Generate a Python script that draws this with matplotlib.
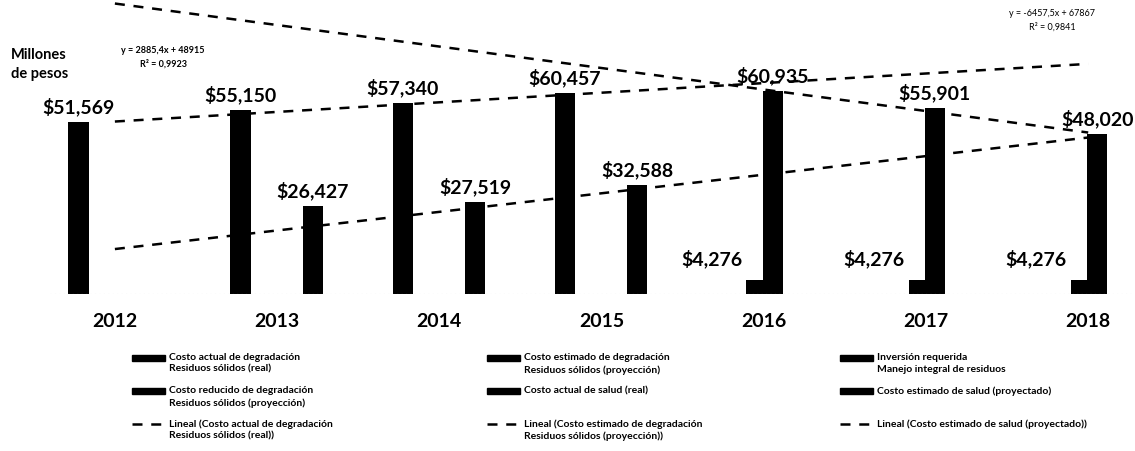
import numpy as np
import matplotlib.pyplot as plt
from matplotlib.patches import Rectangle
from matplotlib.lines import Line2D

plt.rcParams['font.family'] = ['Lato', 'DejaVu Sans']

nan = np.nan
years = ['2012', '2013', '2014', '2015', '2016', '2017', '2018']

# millones de pesos
costo_actual_degradacion = [51569, 55150, 57340, 60457, nan, nan, nan]
costo_reducido_degradacion = [nan, nan, nan, nan, nan, nan, nan]
inversion_requerida = [nan, nan, nan, nan, 4276, 4276, 4276]
costo_estimado_degradacion = [nan, nan, nan, nan, 60935, 55901, 48020]
costo_estimado_salud = [nan, nan, nan, nan, nan, nan, nan]
costo_actual_salud = [nan, 26427, 27519, 32588, nan, nan, nan]

# tendencia de salud proyectada (2012 y 2018)
tendencia_salud = [13500, 47000]

W, H = 1135, 452
fig = plt.figure(figsize=(W / 100, H / 100), dpi=100)
ax = fig.add_axes([50 / W, 1 - 295 / H, 1082 / W, 295 / H])
ax.set_xlim(-0.40, 6.27)
ax.set_ylim(0, 88600)
for s in ax.spines.values():
    s.set_visible(False)
ax.set_yticks([])
x = np.arange(len(years))
ax.set_xticks(x)
ax.set_xticklabels(years, fontsize=14, fontweight='bold')
ax.tick_params(axis='x', length=0, pad=13)
ax.axhline(0, color='#c8c8c8', lw=0.8, ls=(0, (1, 3)))

bw = 0.125
series = [
    (costo_actual_degradacion, -0.225),
    (costo_reducido_degradacion, -0.135),
    (inversion_requerida, -0.045),
    (costo_estimado_degradacion, 0.055),
    (costo_estimado_salud, 0.135),
    (costo_actual_salud, 0.22),
]
for vals, off in series:
    ax.bar(x + off, vals, width=bw, color='black')

# etiquetas de valores
for vals, off in [(costo_actual_degradacion, -0.225), (costo_estimado_degradacion, 0.055),
                  (costo_actual_salud, 0.22)]:
    for xi, v in zip(x, vals):
        if np.isnan(v):
            continue
        ax.annotate(f'${v:,.0f}', (xi + off, v), xytext=(0, 5), textcoords='offset points',
                    ha='center', va='bottom', fontsize=14, fontweight='bold')
for xi, v in zip(x, inversion_requerida):
    if np.isnan(v):
        continue
    ax.annotate(f'${v:,.0f}', (xi - 0.045 - bw / 2, v), xytext=(-3, 9), textcoords='offset points',
                ha='right', va='bottom', fontsize=14, fontweight='bold')

# lineas de tendencia
dash = dict(color='black', lw=1.8, ls=(0, (4, 3.5)), clip_on=False)
xa = x[~np.isnan(costo_actual_degradacion)]
ya = np.array(costo_actual_degradacion)[xa]
pa = np.polyfit(xa, ya, 1)
ax.plot([0, 6], np.polyval(pa, [0, 6]), **dash)

xb = x[~np.isnan(costo_estimado_degradacion)]
yb = np.array(costo_estimado_degradacion)[xb]
pb = np.polyfit(xb, yb, 1)
ax.plot([0, 6], np.polyval(pb, [0, 6]), **dash)

ax.plot([0, 6], tendencia_salud, **dash)


def eq_text(xs, ys):
    xs1 = np.arange(1, len(ys) + 1)
    m, b = np.polyfit(xs1, ys, 1)
    r2 = np.corrcoef(xs1, ys)[0, 1] ** 2
    eq = f'y = {m:.1f}x + {b:.0f}'.replace('+ -', '- ').replace('.', ',')
    return eq + '\n' + f'R² = {r2:.4f}'.replace('.', ',')


fig.text(163 / W, 1 - 46 / H, eq_text(xa, ya), ha='center', va='top', fontsize=6.5,
         fontweight='bold', linespacing=1.6)
fig.text(1052 / W, 1 - 9 / H, eq_text(xb, yb), ha='center', va='top', fontsize=6.5,
         linespacing=1.6)

fig.text(11 / W, 1 - 48 / H, 'Millones\nde pesos', ha='left', va='top', fontsize=10.5,
         fontweight='bold', linespacing=1.45)

# leyenda
leg = [
    (132, 353, 'bar', 'Costo actual de degradación\nResiduos sólidos (real)'),
    (132, 386, 'bar', 'Costo reducido de degradación\nResiduos sólidos (proyección)'),
    (132, 419, 'line', 'Lineal (Costo actual de degradación\nResiduos sólidos (real))'),
    (487, 353, 'bar', 'Costo estimado de degradación\nResiduos sólidos (proyección)'),
    (487, 386, 'bar', 'Costo actual de salud (real)'),
    (487, 419, 'line', 'Lineal (Costo estimado de degradación\nResiduos sólidos (proyección))'),
    (840, 353, 'bar', 'Inversión requerida\nManejo integral de residuos'),
    (840, 386, 'bar', 'Costo estimado de salud (proyectado)'),
    (840, 419, 'line', 'Lineal (Costo estimado de salud (proyectado))'),
]
for lx, ly, kind, label in leg:
    if kind == 'bar':
        fig.add_artist(Rectangle((lx / W, 1 - (ly + 9) / H), 33 / W, 6 / H,
                                 transform=fig.transFigure, color='black'))
    else:
        fig.add_artist(Line2D([lx / W, (lx + 30) / W], [1 - (ly + 6) / H] * 2,
                              transform=fig.transFigure, color='black', lw=1.8,
                              ls=(0, (4, 3.5))))
    fig.text((lx + 37) / W, 1 - ly / H, label, ha='left', va='top', fontsize=7.5,
             fontweight='bold', linespacing=1.4)

fig.savefig('out.png', dpi=100)
